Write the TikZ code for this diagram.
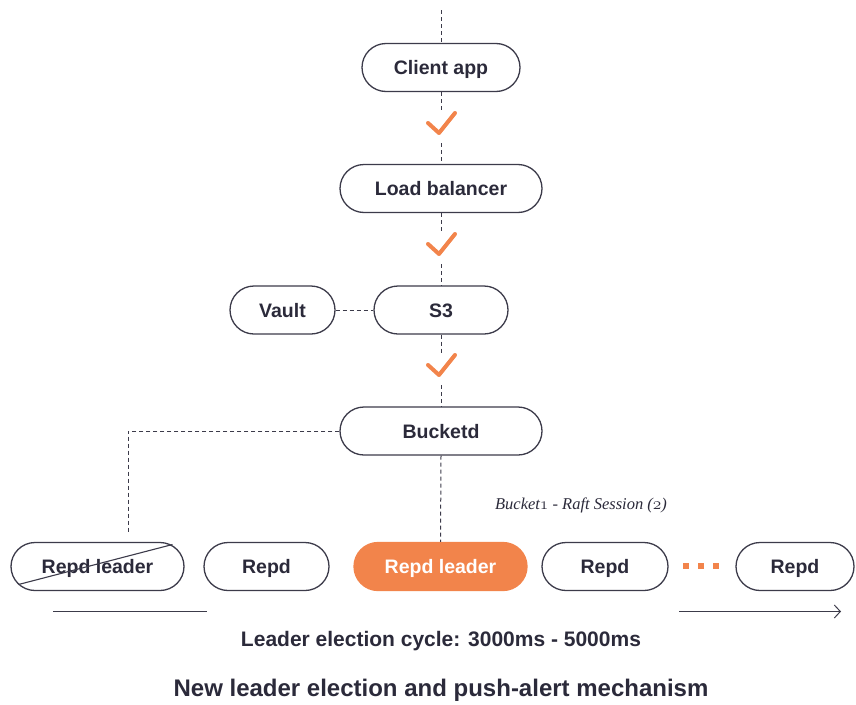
\documentclass[tikz,border=0pt]{standalone}
\usepackage{fontspec}
\newfontfamily\lab{Liberation Sans}
\newfontfamily\note{Liberation Serif}
\usetikzlibrary{arrows.meta,calc}
\definecolor{ink}{HTML}{2B2A3A}
\definecolor{edge}{HTML}{3C3B4A}
\definecolor{accent}{HTML}{F2844B}
\begin{document}
\begin{tikzpicture}[x=1pt,y=-1pt,
  box/.style={draw=edge, line width=1.3pt, rounded corners=24pt, minimum height=48pt,
    inner sep=0pt, text height=14pt, text depth=0pt, fill=white, text=ink,
    font=\lab\bfseries\fontsize{19.5}{22}\selectfont},
  leaderbox/.style={box, draw=accent, fill=accent, text=white},
  link/.style={draw=edge, line width=1pt, dash pattern=on 4pt off 3pt},
  tick/.style={draw=accent, line width=4pt, line cap=round, line join=round},
  gapnode/.style={minimum width=30pt, minimum height=30pt, inner sep=0pt},
  timeline/.style={draw=edge, line width=1pt},
  dotsq/.style={fill=accent, minimum size=6pt, inner sep=0pt},
]
\useasboundingbox (0,0) rectangle (856,704);

% main chain
\node[box, minimum width=158pt] (client) at (441,67.5) {Client app};
\node[box, minimum width=202pt] (lb) at (441,188.5) {Load balancer};
\node[box, minimum width=134pt] (s3) at (441,310) {S3};
\node[box, minimum width=105pt] (vault) at (282.5,310) {Vault};
\node[box, minimum width=202pt] (bk) at (441,431) {Bucketd};

% repd row
\node[box, minimum width=173pt] (old) at (97.5,566.5) {Repd leader};
\node[box, minimum width=125pt] (r1) at (266.5,566.5) {Repd};
\node[leaderbox, minimum width=173pt] (lead) at (440.5,566.5) {Repd leader};
\node[box, minimum width=126pt] (r2) at (605,566.5) {Repd};
\node[box, minimum width=118pt] (r3) at (795,566.5) {Repd};
\draw[edge, line width=1.1pt] ($(old.center)+(-79,18)$) -- ($(old.center)+(75,-22)$);

% ellipsis between the last two replicas
\node[dotsq] (d1) at (686,566) {};
\node[dotsq] (d2) at (701,566) {};
\node[dotsq] (d3) at (716,566) {};

% check marks on the request path
\node[gapnode] (ck1) at (441,128) {};
\node[gapnode] (ck2) at (441,249) {};
\node[gapnode] (ck3) at (441,370) {};
\foreach \c in {ck1,ck2,ck3}
  \draw[tick] ($(\c.center)+(-13,-5)$) -- ($(\c.center)+(-2,5)$) -- ($(\c.center)+(14,-15)$);

% dashed connectors
\coordinate (entry) at (441,10);
\coordinate (oldtop) at (128,533);
\draw[link] (entry) -- (client.north);
\draw[link] (client.south) -- (ck1.north);
\draw[link] (ck1.south) -- (lb.north);
\draw[link] (lb.south) -- (ck2.north);
\draw[link] (ck2.south) -- (s3.north);
\draw[link] (s3.south) -- (ck3.north);
\draw[link] (ck3.south) -- (bk.north);
\draw[link] (vault.east) -- (s3.west);
\draw[link] (bk.west) -| (oldtop);
\draw[link] (bk.south) -- (lead.north);

% session label
\node[text=ink, font=\note\itshape\fontsize{16.5}{19}\selectfont] (session) at (581,505)
  {Bucket$\mathnormal{1}$ - Raft Session ($\mathnormal{2}$)};

% election timeline
\coordinate (t0) at (53,611.5);
\coordinate (t1) at (207,611.5);
\coordinate (t2) at (679,611.5);
\coordinate (t3) at (841,611.5);
\draw[timeline] (t0) -- (t1);
\draw[timeline, -{Straight Barb[length=6pt,width=13pt]}] (t2) -- (t3);

\node[text=ink, font=\lab\bfseries\fontsize{21}{25}\selectfont] (cycle) at (441,641)
  {Leader election cycle: 3000ms - 5000ms};
\node[text=ink, font=\lab\bfseries\fontsize{24}{28}\selectfont] (title) at (441,690)
  {New leader election and push-alert mechanism};
\end{tikzpicture}
\end{document}
